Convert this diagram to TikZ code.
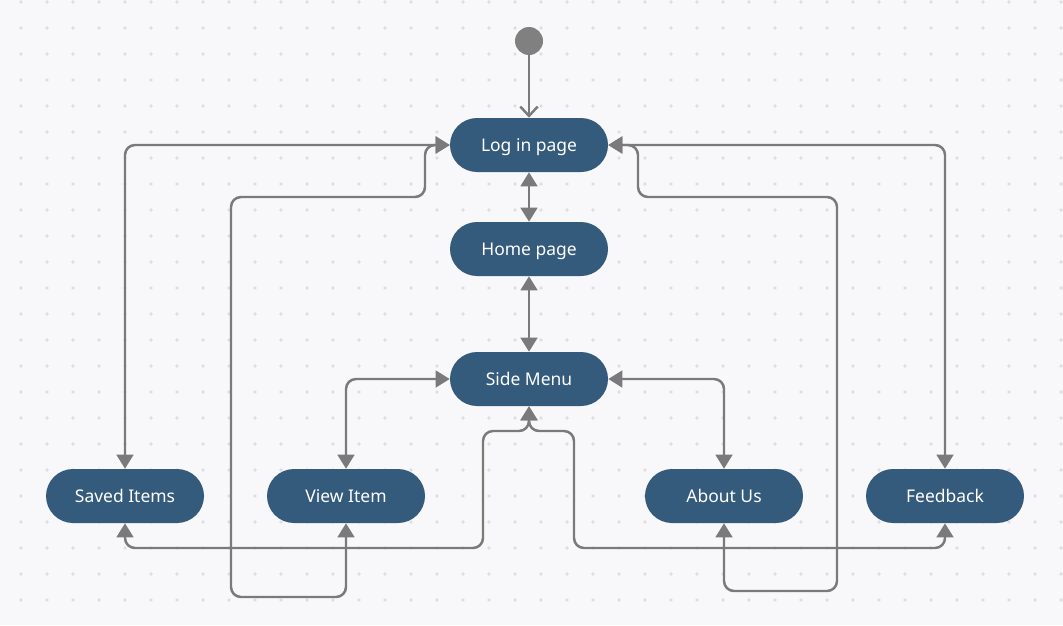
\documentclass[tikz,border=0pt]{standalone}
\usepackage{fontspec}
\setmainfont{Noto Sans}
\usetikzlibrary{arrows.meta}
\definecolor{paper}{HTML}{F8F8FA}
\definecolor{griddot}{HTML}{DEDEE3}
\definecolor{statefill}{HTML}{355B7C}
\definecolor{wire}{HTML}{7A7A7A}
\definecolor{startdot}{HTML}{808080}
\tikzset{
  x=0.75pt, y=-0.75pt,
  state/.style={draw=none, fill=statefill, text=white, rounded corners=20.25pt,
    minimum width=118.5pt, minimum height=40.5pt, inner sep=0pt,
    text height=10.4pt, text depth=0pt,
    font=\fontsize{13.1pt}{15pt}\selectfont},
  tip/.tip={Triangle[length=10.5pt, width=12.5pt]},
  link/.style={draw=wire, line width=1.85pt, rounded corners=7.5pt, tip-tip},
  entry/.style={draw=wire, line width=1.85pt, -{Straight Barb[length=7pt, width=13pt, line join=miter]}},
}
\begin{document}
\begin{tikzpicture}
% canvas and dotted grid
\fill[paper] (0,0) rectangle (1063,625);
\useasboundingbox (0,0) rectangle (1063,625);
\foreach \gx in {21,47,...,1063}
  \foreach \gy in {2,28,...,625}
    \fill[griddot] (\gx,\gy) circle (1.35pt);

% states
\node[circle, fill=startdot, minimum size=21pt, inner sep=0pt] (start) at (529,41) {};
\node[state] (login) at (529,145) {Log in page};
\node[state] (home)  at (529,249) {Home page};
\node[state] (side)  at (529,379) {Side Menu};
\node[state] (saved) at (125,496) {Saved Items};
\node[state] (view)  at (346,496) {View Item};
\node[state] (about) at (724,496) {About Us};
\node[state] (feed)  at (945,496) {Feedback};

% transitions
\draw[entry] (start) -- (login.north);
\draw[link] (login) -- (home);
\draw[link] (home) -- (side);
\draw[link] (login.west) -| (saved.north);
\draw[link] (login.east) -| (feed.north);
\draw[link] (side.west) -| (view.north);
\draw[link] (side.east) -| (about.north);
\draw[link] (login.west) -- (425,145) -- (425,197) -- (231,197) -- (231,597)
  -- (346,597) -- (view.south);
\draw[link] (login.east) -- (638,145) -- (638,197) -- (837,197) -- (837,591)
  -- (724,591) -- (about.south);
\draw[link] (side.south) -- (529,431) -- (483,431) -- (483,548)
  -- (125,548) -- (saved.south);
\draw[link] (side.south) -- (529,431) -- (574,431) -- (574,548)
  -- (945,548) -- (feed.south);
\end{tikzpicture}
\end{document}
